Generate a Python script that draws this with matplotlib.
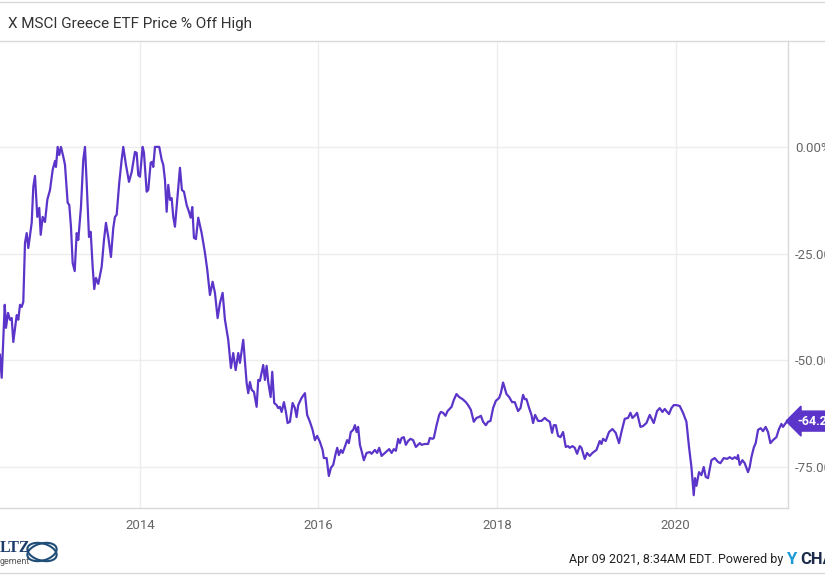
import matplotlib
matplotlib.use("Agg")
import matplotlib.pyplot as plt
from matplotlib.lines import Line2D
from matplotlib.patches import Ellipse

plt.rcParams['font.family'] = ['Roboto', 'DejaVu Sans']

# Global X MSCI Greece ETF: price % off high (decimal year, percent)
dates = [
    2012.432, 2012.451, 2012.485, 2012.499, 2012.522, 2012.544, 2012.563, 2012.581,
    2012.619, 2012.637, 2012.656, 2012.675, 2012.693, 2012.712, 2012.731, 2012.749,
    2012.787, 2012.805, 2012.824, 2012.850, 2012.872, 2012.888, 2012.910, 2012.936,
    2012.962, 2012.992, 2013.022, 2013.048, 2013.059, 2013.078, 2013.096, 2013.115,
    2013.141, 2013.160, 2013.190, 2013.208, 2013.227, 2013.246, 2013.269, 2013.291,
    2013.309, 2013.339, 2013.365, 2013.384, 2013.403, 2013.429, 2013.448, 2013.470,
    2013.488, 2013.507, 2013.533, 2013.571, 2013.597, 2013.619, 2013.645, 2013.675,
    2013.701, 2013.720, 2013.739, 2013.768, 2013.795, 2013.813, 2013.843, 2013.877,
    2013.907, 2013.944, 2013.963, 2013.981, 2014.000, 2014.030, 2014.045, 2014.075,
    2014.093, 2014.120, 2014.138, 2014.149, 2014.168, 2014.216, 2014.243, 2014.261,
    2014.280, 2014.299, 2014.317, 2014.336, 2014.355, 2014.373, 2014.392, 2014.418,
    2014.448, 2014.470, 2014.493, 2014.523, 2014.549, 2014.568, 2014.586, 2014.605,
    2014.627, 2014.653, 2014.691, 2014.728, 2014.754, 2014.784, 2014.814, 2014.840,
    2014.870, 2014.896, 2014.926, 2014.952, 2014.989, 2015.019, 2015.045, 2015.072,
    2015.101, 2015.120, 2015.157, 2015.195, 2015.213, 2015.232, 2015.251, 2015.277,
    2015.307, 2015.325, 2015.344, 2015.381, 2015.400, 2015.419, 2015.437, 2015.464,
    2015.482, 2015.504, 2015.531, 2015.549, 2015.568, 2015.587, 2015.613, 2015.635,
    2015.654, 2015.680, 2015.710, 2015.736, 2015.755, 2015.773, 2015.811, 2015.848,
    2015.873, 2015.904, 2015.934, 2015.960, 2015.985, 2016.016, 2016.046, 2016.060,
    2016.091, 2016.116, 2016.139, 2016.165, 2016.192, 2016.210, 2016.228, 2016.251,
    2016.270, 2016.295, 2016.321, 2016.340, 2016.362, 2016.389, 2016.408, 2016.427,
    2016.444, 2016.464, 2016.486, 2016.508, 2016.539, 2016.576, 2016.595, 2016.632,
    2016.657, 2016.680, 2016.707, 2016.744, 2016.792, 2016.819, 2016.844, 2016.867,
    2016.893, 2016.912, 2016.931, 2016.956, 2016.979, 2017.004, 2017.031, 2017.060,
    2017.091, 2017.135, 2017.155, 2017.191, 2017.228, 2017.248, 2017.278, 2017.292,
    2017.323, 2017.352, 2017.371, 2017.396, 2017.423, 2017.446, 2017.491, 2017.516,
    2017.546, 2017.576, 2017.614, 2017.651, 2017.676, 2017.707, 2017.740, 2017.770,
    2017.796, 2017.819, 2017.844, 2017.875, 2017.900, 2017.927, 2017.956, 2017.987,
    2018.024, 2018.043, 2018.068, 2018.106, 2018.136, 2018.169, 2018.199, 2018.236,
    2018.263, 2018.292, 2018.311, 2018.330, 2018.360, 2018.386, 2018.404, 2018.427,
    2018.460, 2018.498, 2018.535, 2018.561, 2018.591, 2018.617, 2018.636, 2018.659,
    2018.684, 2018.711, 2018.740, 2018.770, 2018.796, 2018.815, 2018.845, 2018.871,
    2018.897, 2018.927, 2018.946, 2018.983, 2019.009, 2019.039, 2019.069, 2019.114,
    2019.151, 2019.170, 2019.188, 2019.218, 2019.255, 2019.293, 2019.330, 2019.367,
    2019.394, 2019.431, 2019.468, 2019.495, 2019.517, 2019.543, 2019.569, 2019.607,
    2019.636, 2019.674, 2019.711, 2019.756, 2019.793, 2019.823, 2019.853, 2019.879,
    2019.898, 2019.927, 2019.954, 2019.980, 2020.010, 2020.047, 2020.084, 2020.122,
    2020.151, 2020.178, 2020.204, 2020.218, 2020.234, 2020.263, 2020.290, 2020.316,
    2020.338, 2020.364, 2020.402, 2020.439, 2020.476, 2020.503, 2020.540, 2020.577,
    2020.607, 2020.637, 2020.663, 2020.689, 2020.700, 2020.719, 2020.749, 2020.775,
    2020.812, 2020.831, 2020.850, 2020.876, 2020.898, 2020.924, 2020.954, 2020.980,
    2021.010, 2021.036, 2021.063, 2021.092, 2021.130, 2021.159, 2021.186, 2021.204,
    2021.234, 2021.260,
]
pct_off_high = [
    -48.7, -54.1, -37.0, -42.4, -38.9, -40.5, -40.1, -45.7,
    -39.4, -40.5, -37.0, -37.5, -36.3, -22.5, -20.2, -23.7,
    -17.8, -9.4, -6.8, -16.4, -14.3, -20.6, -16.4, -17.6,
    -12.4, -10.1, -5.4, -3.3, -4.7, 0.0, -1.9, 0.0,
    -2.3, -4.2, -13.1, -13.6, -18.7, -27.2, -29.1, -20.2,
    -21.8, -14.1, -3.0, 0.0, -8.4, -21.1, -19.9, -28.1,
    -33.3, -30.7, -32.1, -28.1, -21.8, -17.8, -21.1, -25.8,
    -19.0, -16.4, -15.9, -8.4, -3.0, 0.0, -4.2, -8.2,
    -5.9, -1.2, -1.4, -6.6, -7.0, 0.0, -1.4, -10.5,
    -10.1, -3.7, -3.5, -4.7, 0.0, 0.0, -3.0, -4.2,
    -7.7, -15.2, -8.9, -12.4, -12.0, -16.4, -18.7, -12.4,
    -4.9, -10.1, -10.5, -13.6, -15.2, -16.6, -14.1, -21.3,
    -21.6, -16.6, -20.2, -24.8, -28.8, -34.7, -31.6, -34.2,
    -40.1, -36.6, -34.2, -40.5, -45.2, -51.8, -48.3, -52.3,
    -48.3, -50.6, -45.2, -55.3, -57.7, -55.1, -56.9, -57.4,
    -60.9, -54.6, -54.8, -51.1, -54.6, -51.3, -55.1, -58.6,
    -52.7, -60.0, -60.5, -61.2, -60.9, -62.1, -59.8, -62.1,
    -64.7, -64.4, -60.0, -61.2, -63.3, -60.5, -58.8, -57.7,
    -62.8, -64.4, -66.3, -68.7, -67.7, -69.1, -71.0, -72.9,
    -72.9, -77.1, -75.2, -74.5, -71.9, -70.5, -72.2, -71.0,
    -71.7, -70.3, -68.7, -69.4, -66.8, -66.3, -65.2, -66.8,
    -65.6, -69.8, -71.5, -73.4, -71.7, -71.5, -71.9, -71.0,
    -71.7, -70.5, -72.4, -71.7, -70.8, -71.7, -70.8, -71.2,
    -68.4, -69.4, -68.2, -68.0, -69.8, -68.9, -68.4, -68.7,
    -70.3, -69.4, -69.8, -69.6, -69.6, -68.2, -68.4, -68.2,
    -65.2, -62.8, -62.1, -62.3, -63.0, -61.9, -60.9, -59.3,
    -57.9, -58.6, -59.1, -59.8, -60.5, -61.6, -64.4, -63.5,
    -63.3, -63.0, -64.4, -65.2, -64.4, -64.2, -61.2, -59.5,
    -58.8, -57.7, -55.2, -57.9, -58.6, -59.8, -59.8, -61.9,
    -61.2, -58.1, -59.1, -59.1, -61.2, -62.8, -64.7, -62.8,
    -64.2, -64.2, -63.5, -64.0, -64.4, -67.0, -65.2, -65.2,
    -67.7, -68.0, -66.8, -70.3, -70.1, -70.5, -70.1, -70.5,
    -71.9, -70.1, -70.5, -73.1, -71.7, -72.4, -71.7, -71.0,
    -68.9, -69.6, -68.4, -68.9, -66.8, -66.1, -67.0, -69.4,
    -66.8, -63.7, -63.5, -62.3, -63.5, -63.0, -62.3, -65.6,
    -65.4, -64.7, -62.8, -64.7, -61.9, -61.2, -62.1, -61.4,
    -61.9, -62.6, -61.2, -60.5, -60.5, -60.7, -62.3, -64.4,
    -70.3, -75.0, -81.6, -77.6, -79.4, -76.2, -76.9, -75.0,
    -77.3, -77.6, -73.4, -72.9, -73.8, -74.1, -72.9, -73.1,
    -72.7, -73.1, -72.7, -73.1, -72.2, -74.5, -73.4, -74.1,
    -76.2, -75.0, -72.7, -70.5, -69.4, -66.3, -65.9, -66.6,
    -65.6, -66.8, -69.4, -68.7, -68.0, -66.1, -64.9, -65.6,
    -64.7, -64.24,
]

x_ticks = [2014, 2016, 2018, 2020]
x_labels = ["2014", "2016", "2018", "2020"]
y_ticks = [0, -25, -50, -75]
y_labels = ["%.2f%%" % v for v in y_ticks]

title = "X MSCI Greece ETF Price % Off High"
footer = "Apr 09 2021, 8:34AM EDT. Powered by"

LINE = "#5b35c9"
GRID = "#ededed"
EDGE = "#d9d9d9"
TXT = "#666666"

W, H = 825, 575
fig = plt.figure(figsize=(W / 100, H / 100), dpi=100)
ax = fig.add_axes([0, 67 / H, 788 / W, 467 / H])

ax.plot(dates, pct_off_high, color=LINE, lw=1.6, solid_joinstyle="round", zorder=3)

ax.set_xlim(dates[0], dates[-1])
ax.set_ylim(-84.6, 24.8)

ax.set_xticks(x_ticks)
ax.set_xticklabels(x_labels)
ax.yaxis.tick_right()
ax.set_yticks(y_ticks)
ax.set_yticklabels(y_labels)
ax.tick_params(length=0, labelcolor=TXT, labelsize=9.5)
ax.tick_params(axis="x", pad=8)
ax.tick_params(axis="y", pad=5)
ax.grid(True, color=GRID, lw=1)

for s in ["left", "top"]:
    ax.spines[s].set_visible(False)
for s in ["right", "bottom"]:
    ax.spines[s].set_color(EDGE)
    ax.spines[s].set_linewidth(1)

# last value badge
ax.annotate("%.2f%%" % pct_off_high[-1], xy=(1, pct_off_high[-1]),
            xycoords=("axes fraction", "data"), xytext=(6.5, 0),
            textcoords="offset points", ha="left", va="center",
            color="white", fontweight="bold", fontsize=9,
            bbox=dict(boxstyle="larrow,pad=0.28", fc=LINE, ec=LINE))

# title and frame lines
fig.text(8 / W, 1 - 24 / H, title, fontsize=11, color="#333333", va="center")
fig.add_artist(Line2D([0, 1], [1 - 41 / H, 1 - 41 / H], color=EDGE, lw=1))
fig.add_artist(Line2D([0, 1], [1 - 1.5 / H, 1 - 1.5 / H], color=EDGE, lw=1))
fig.add_artist(Line2D([0, 1], [1 - 573 / H, 1 - 573 / H], color=EDGE, lw=1))

# footer
fig.text(783 / W, 1 - 560 / H, footer, ha="right", va="center",
         fontsize=9, color="#222222")
fig.text(786 / W, 1 - 560 / H, "Y", ha="left", va="center",
         fontsize=12, fontweight="bold", color="#1a9ad6")
fig.text(800 / W, 1 - 560 / H, "CHARTS", ha="left", va="center",
         fontsize=12, fontweight="bold", color="#1c2b4a")

# logo
fig.text(0, 1 - 548 / H, "LTZ", family=["Liberation Serif"], fontweight="bold",
         fontsize=11.5, color="#1f3d6b", va="center")
fig.text(0, 1 - 562 / H, "gement", fontsize=6.5, color="#555555", va="center")
for ang in [35, -35]:
    fig.add_artist(Ellipse((42 / W, 1 - 552 / H), 32 / W, 16 / H, angle=ang,
                           transform=fig.transFigure, fill=False,
                           ec="#1f4e79", lw=1.5))

fig.savefig("out.png", dpi=100)
